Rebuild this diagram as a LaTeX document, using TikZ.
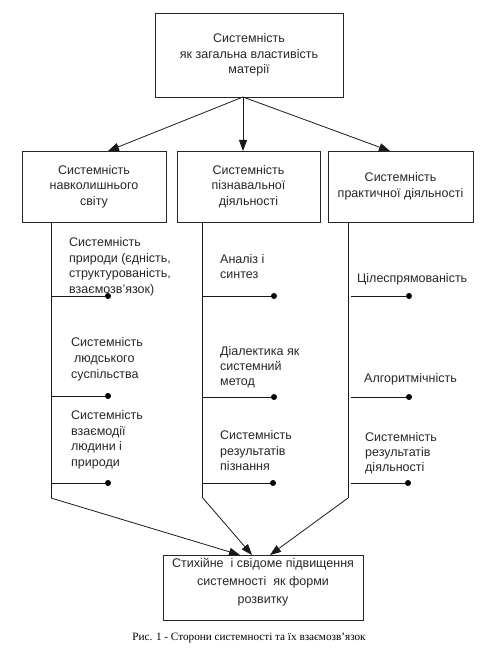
\documentclass[tikz,border=0pt]{standalone}
\usepackage{fontspec}
\setmainfont{Liberation Sans}
\newfontfamily\capfont{Liberation Serif}
\usetikzlibrary{arrows.meta}
\begin{document}
\begin{tikzpicture}[x=1pt,y=-1pt,
  box/.style={draw=black!85, line width=0.8pt, inner sep=0pt, align=center, text=black!85,
    font=\fontsize{12.5}{15.5}\selectfont},
  lbl/.style={anchor=north west, inner sep=0pt, align=left, text=black!85,
    font=\fontsize{12.5}{15.7}\selectfont},
  arr/.style={draw=black!90, line width=0.8pt, -{Triangle[length=11pt,width=8pt]}},
  ln/.style={draw=black!90, line width=0.8pt},
  dotc/.style={circle, fill=black, inner sep=0pt, minimum size=6pt}]
\useasboundingbox (0,0) rectangle (496,671);

% main boxes
\node[box, minimum width=188pt, minimum height=84pt] (top) at (249,55)
  {Системність\\як загальна властивість\\матерії};
\node[box, minimum width=144pt, minimum height=71pt] (lbox) at (94,186.5)
  {Системність\\навколишнього\\світу};
\node[box, minimum width=143pt, minimum height=71pt] (mbox) at (248.5,186.5)
  {Системність\\пізнавальної\\діяльності};
\node[box, minimum width=145pt, minimum height=71pt] (rbox) at (400.5,186.5)
  {Системність\\практичної діяльності};
\node[box, minimum width=200pt, minimum height=65pt] (bbox) at (263,587.5) {};
\node[inner sep=0pt, align=center, text=black!85, font=\fontsize{12.5}{18}\selectfont] (btext) at (263,582)
  {Стихійне \ і свідоме підвищення\\системності \ як форми\\розвитку};

% arrows from top
\coordinate (apex) at (243,97);
\coordinate (la) at (108,151);
\coordinate (ma) at (243,151);
\coordinate (ra) at (390,151);
\draw[arr] (apex) -- (la);
\draw[arr] (apex) -- (ma);
\draw[arr] (apex) -- (ra);

% vertical spines
\coordinate (lt) at (51,222);   \coordinate (lb) at (51,498);
\coordinate (mt) at (202,222);  \coordinate (mb) at (202,497);
\coordinate (rt) at (348,222);  \coordinate (rb) at (348,498);
\coordinate (t1) at (240,555);
\coordinate (t2) at (252,555);
\coordinate (t3) at (270,555);
\draw[ln] (lt) -- (lb);
\draw[ln] (mt) -- (mb);
\draw[ln] (rt) -- (rb);
\draw[arr] (lb) -- (t1);
\draw[arr] (mb) -- (t2);
\draw[arr] (rb) -- (t3);

% branches left
\coordinate (l1s) at (51,296); \node[dotc] (l1d) at (108,296) {};
\coordinate (l2s) at (51,396); \node[dotc] (l2d) at (108,396) {};
\coordinate (l3s) at (51,483); \node[dotc] (l3d) at (108,483) {};
\draw[ln] (l1s) -- (l1d);
\draw[ln] (l2s) -- (l2d);
\draw[ln] (l3s) -- (l3d);
% branches middle
\coordinate (m1s) at (202,296); \node[dotc] (m1d) at (274,296) {};
\coordinate (m2s) at (202,397); \node[dotc] (m2d) at (274,397) {};
\coordinate (m3s) at (202,483); \node[dotc] (m3d) at (273,483) {};
\draw[ln] (m1s) -- (m1d);
\draw[ln] (m2s) -- (m2d);
\draw[ln] (m3s) -- (m3d);
% branches right
\coordinate (r1s) at (351,296); \node[dotc] (r1d) at (409,296) {};
\coordinate (r2s) at (351,397); \node[dotc] (r2d) at (409,397) {};
\coordinate (r3s) at (351,483); \node[dotc] (r3d) at (408,483) {};
\draw[ln] (r1s) -- (r1d);
\draw[ln] (r2s) -- (r2d);
\draw[ln] (r3s) -- (r3d);

% labels left
\node[lbl] (lt1) at (69,237.3) {Системність\\природи (єдність,\\структурованість,\\взаємозв’язок)};
\node[lbl, font=\fontsize{12.5}{16}\selectfont] (lt2) at (71,337.3) {Системність\\\hspace*{3pt}людського\\суспільства};
\node[lbl] (lt3) at (71,410.3) {Системність\\взаємодії\\людини і\\природи};
% labels middle
\node[lbl, font=\fontsize{12.5}{15}\selectfont] (mt1) at (220,254.3) {Аналіз і\\синтез};
\node[lbl, font=\fontsize{12.5}{15}\selectfont] (mt2) at (220,346.3) {Діалектика як\\системний\\метод};
\node[lbl] (mt3) at (220,430.3) {Системність\\результатів\\пізнання};
% labels right
\node[lbl] (rt1) at (357,273.3) {Цілеспрямованість};
\node[lbl] (rt2) at (364,373.3) {Алгоритмічність};
\node[lbl, font=\fontsize{12.5}{15}\selectfont] (rt3) at (365,432.3) {Системність\\результатів\\діяльності};

% caption
\node[inner sep=0pt, font=\capfont\fontsize{11.2}{13}\selectfont] (cap) at (249,638)
  {Рис. 1 - Сторони системності та їх взаємозв’язок};
\end{tikzpicture}
\end{document}
